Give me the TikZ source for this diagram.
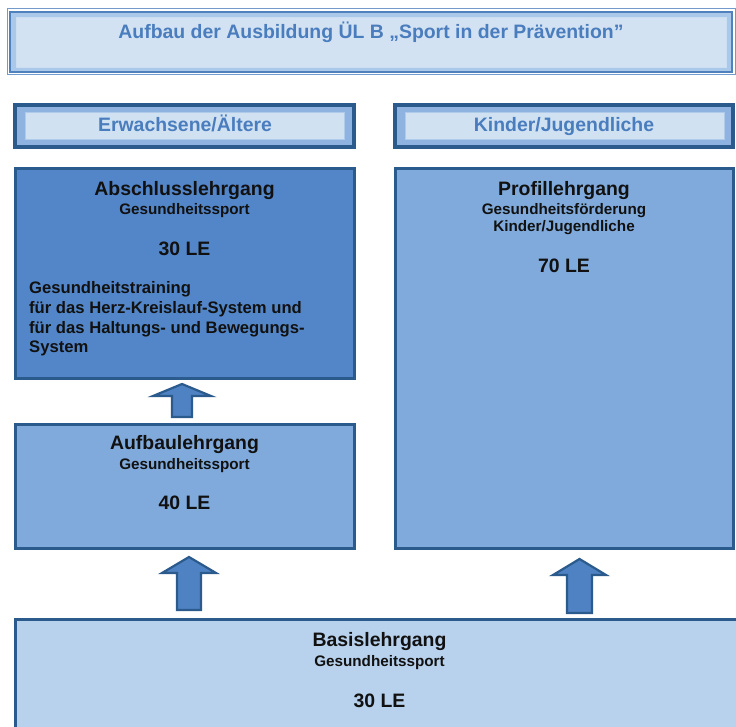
\documentclass[tikz,border=0pt]{standalone}
\usepackage{fontspec}
\setmainfont{Liberation Sans}
\definecolor{tline}{HTML}{4F81BD}
\definecolor{tband}{HTML}{AAC8EA}
\definecolor{tin}{HTML}{D2E2F2}
\definecolor{dkline}{HTML}{2B5A8C}
\definecolor{cband}{HTML}{8EB3E0}
\definecolor{cin}{HTML}{D0E1F2}
\definecolor{fdark}{HTML}{5286C8}
\definecolor{fmid}{HTML}{80AADC}
\definecolor{flight}{HTML}{B8D1EC}
\definecolor{afill}{HTML}{4F82C2}
\definecolor{ttext}{HTML}{4A7DBD}
\definecolor{btext}{HTML}{111111}
\begin{document}
\begin{tikzpicture}[x=1bp,y=-1bp,
  big/.style={font=\bfseries\fontsize{19.5}{22}\selectfont, inner sep=0, anchor=base, text=btext},
  small/.style={font=\bfseries\fontsize{15.3}{17}\selectfont, inner sep=0, anchor=base, text=btext},
  body/.style={font=\bfseries\fontsize{16.7}{20}\selectfont, inner sep=0, anchor=base west, text=btext},
  head/.style={font=\bfseries\fontsize{19.5}{22}\selectfont, inner sep=0, anchor=base, text=ttext},
  boxdark/.style={draw=dkline, line width=3bp, fill=fdark},
  boxmid/.style={draw=dkline, line width=3bp, fill=fmid},
  boxlight/.style={draw=dkline, line width=3bp, fill=flight},
  catouter/.style={draw=dkline, line width=3.5bp, fill=cband},
  catinner/.style={draw=cband!70!white, line width=0.8bp, fill=cin},
  blockarrow/.style={draw=dkline, line width=2.2bp, fill=afill, line join=miter}]
\useasboundingbox (0,0) rectangle (736,727);
\fill[white] (0,0) rectangle (736,727);

% title
\draw[tline!80!white, line width=1bp] (7,9) rectangle (735,75);
\draw[tline, line width=2.5bp, fill=tband] (10,12) rectangle (732,72);
\draw[fill=tin, draw=tband!60!white, line width=0.8bp] (16,17) rectangle (726,67);
\node[head] (title) at (371,39) {Aufbau der Ausbildung ÜL B „Sport in der Prävention”};

% category boxes
\draw[catouter] (15,105) rectangle (354,147);
\draw[catinner] (25,112) rectangle (344,139);
\node[head] (erw) at (185,132) {Erwachsene/Ältere};
\draw[catouter] (395,105) rectangle (733,147);
\draw[catinner] (405,112) rectangle (724,139);
\node[head] (kij) at (564,132) {Kinder/Jugendliche};

% Abschlusslehrgang
\draw[boxdark] (15,168) rectangle (354,378);
\node[big] (abs) at (184.5,195) {Abschlusslehrgang};
\node[small] (absg) at (184.5,214) {Gesundheitssport};
\node[big] (absle) at (184.5,255) {30 LE};
\node[body] (abs1) at (29,293) {Gesundheitstraining};
\node[body] (abs2) at (29,313) {für das Herz-Kreislauf-System und};
\node[body] (abs3) at (29,333) {für das Haltungs- und Bewegungs-};
\node[body] (abs4) at (29,352) {System};

% Profillehrgang
\draw[boxmid] (395,168) rectangle (733,548);
\node[big] (pro) at (564,195) {Profillehrgang};
\node[small] (prog) at (564,214) {Gesundheitsförderung};
\node[small] (prok) at (564,231) {Kinder/Jugendliche};
\node[big] (prole) at (564,272) {70 LE};

% Aufbaulehrgang
\draw[boxmid] (15,424) rectangle (354,548);
\node[big] (auf) at (184.5,449) {Aufbaulehrgang};
\node[small] (aufg) at (184.5,469) {Gesundheitssport};
\node[big] (aufle) at (184.5,509) {40 LE};

% Basislehrgang
\draw[boxlight] (15,619) rectangle (745,745);
\node[big] (bas) at (379.5,646) {Basislehrgang};
\node[small] (basg) at (379.5,666) {Gesundheitssport};
\node[big] (basle) at (379.5,707) {30 LE};

% block arrows
\draw[blockarrow] (172,417) -- (172,396) -- (153,396) -- (182,384) -- (211,396) -- (192,396) -- (192,417) -- cycle;
\draw[blockarrow] (177,610) -- (177,573) -- (162,573) -- (189,557) -- (216,573) -- (201,573) -- (201,610) -- cycle;
\draw[blockarrow] (567,613) -- (567,575) -- (553,575) -- (579.5,559) -- (606,575) -- (592,575) -- (592,613) -- cycle;
\end{tikzpicture}
\end{document}
